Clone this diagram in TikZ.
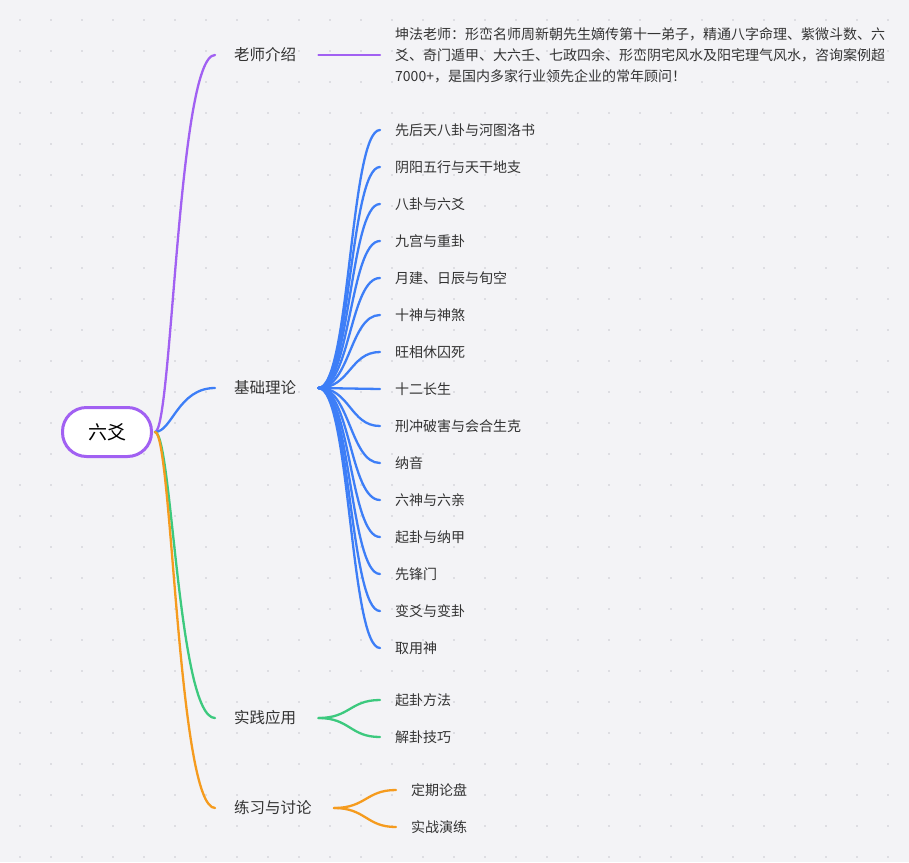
\documentclass[tikz,border=0pt]{standalone}
\usepackage{fontspec}
\setmainfont{Noto Sans CJK SC}
\definecolor{bgcol}{HTML}{F3F3F6}
\definecolor{dotcol}{HTML}{C8C8CE}
\definecolor{lpurple}{HTML}{A160F2}
\definecolor{lblue}{HTML}{3D7EF7}
\definecolor{lgreen}{HTML}{3CC97E}
\definecolor{lorange}{HTML}{F59B1E}
\definecolor{txt}{HTML}{333333}
\begin{document}
\begin{tikzpicture}[x=1pt,y=-1pt,
    rootbox/.style={rectangle, draw=lpurple, line width=3pt, fill=white, rounded corners=24pt, minimum width=89pt, minimum height=49pt, font=\fontsize{19}{22}\selectfont},
    topic/.style={anchor=west, inner sep=0pt, text=txt, font=\fontsize{15.5}{18}\selectfont},
    leaf/.style={anchor=west, inner sep=0pt, text=txt, font=\fontsize{14}{16}\selectfont},
    branch/.style={line width=2.3pt, line cap=round}
]
    \fill[bgcol] (0,0) rectangle (909,862);
    \foreach \i in {0,...,28} \foreach \j in {0,...,27}
        \fill[dotcol] (20+31*\i,20+31*\j) circle (0.9pt);

    \node[rootbox] (root) at (107,432) {六爻};
    \coordinate (r) at (155,432);

    \node[topic] (teacher) at (234,55) {老师介绍};
    \node[topic] (theory) at (234,388) {基础理论};
    \node[topic] (practice) at (234,718) {实践应用};
    \node[topic] (exercise) at (234,808) {练习与讨论};

    % root to topics
    \foreach \t/\c in {teacher/lpurple, theory/lblue, practice/lgreen, exercise/lorange}
        \draw[branch, \c] (r) .. controls (172,432) and (178,0 |- \t.west) .. ([xshift=-19pt]\t.west);

    % teacher
    \node[leaf, align=left, anchor=west, font=\fontsize{14}{21}\selectfont] (intro) at (395,55)
        {坤法老师：形峦名师周新朝先生嫡传第十一弟子，精通八字命理、紫微斗数、六\\爻、奇门遁甲、大六壬、七政四余、形峦阴宅风水及阳宅理气风水，咨询案例超\\7000+，是国内多家行业领先企业的常年顾问！};
    \draw[branch, lpurple] ([xshift=22pt]teacher.east) -- (380,55);

    % theory
    \foreach \s [count=\k] in {先后天八卦与河图洛书, 阴阳五行与天干地支, 八卦与六爻, 九宫与重卦, 月建、日辰与旬空, 十神与神煞, 旺相休囚死, 十二长生, 刑冲破害与会合生克, 纳音, 六神与六亲, 起卦与纳甲, 先锋门, 变爻与变卦, 取用神} {
        \node[leaf] (th\k) at (395,93+37*\k) {\s};
        \draw[branch, lblue] ([xshift=22pt]theory.east) .. controls (350,388) and (350,93+37*\k) .. ([xshift=-15pt]th\k.west);
    }

    % practice
    \node[leaf] (pr1) at (395,700) {起卦方法};
    \node[leaf] (pr2) at (395,737) {解卦技巧};
    \foreach \n in {pr1,pr2}
        \draw[branch, lgreen] ([xshift=22pt]practice.east) .. controls (350,718) and (350,0 |- \n.west) .. ([xshift=-15pt]\n.west);

    % exercise
    \node[leaf] (ex1) at (411,790) {定期论盘};
    \node[leaf] (ex2) at (411,827) {实战演练};
    \foreach \n in {ex1,ex2}
        \draw[branch, lorange] ([xshift=22pt]exercise.east) .. controls (366,808) and (366,0 |- \n.west) .. ([xshift=-15pt]\n.west);

    \useasboundingbox (0,0) rectangle (909,862);
\end{tikzpicture}
\end{document}
